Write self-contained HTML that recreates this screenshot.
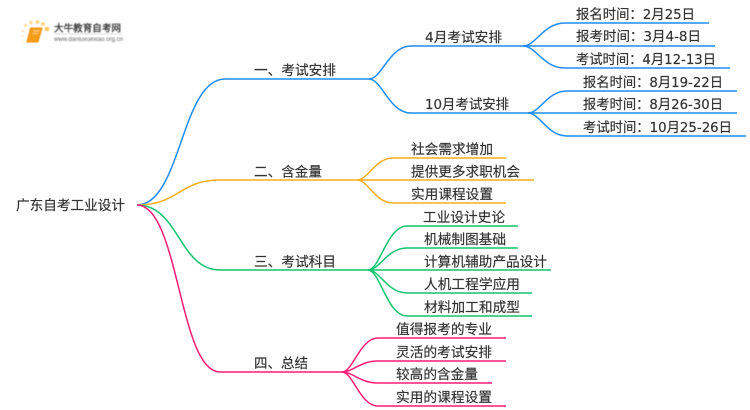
<!DOCTYPE html>
<html><head><meta charset="utf-8"><style>
html,body{margin:0;padding:0;background:#fff;width:750px;height:410px;overflow:hidden}
svg{display:block}
text{font-family:"DejaVu Sans","Noto Sans CJK SC",sans-serif;font-size:13.6px;fill:#333;stroke:#333;stroke-width:.18}
path{fill:none;stroke-width:1.5}
</style></head><body>
<svg width="750" height="410" viewBox="0 0 750 410" xmlns="http://www.w3.org/2000/svg">
<defs><filter id="b" x="-10%" y="-10%" width="120%" height="120%"><feGaussianBlur stdDeviation="0.5"/></filter></defs>
<!-- logo -->
<g filter="url(#b)">
<circle cx="47" cy="29" r="2.300" fill="#fbc75a"/><circle cx="43" cy="24" r="1.900" fill="#fbd27a"/><circle cx="37.500" cy="22" r="1.900" fill="#fbd27a"/><circle cx="31" cy="22.500" r="1.800" fill="#fcd98c"/><circle cx="25.500" cy="25.500" r="1.600" fill="#fcdf9f"/><circle cx="22.500" cy="31" r="1.300" fill="#fde6b5"/><circle cx="22.500" cy="36.500" r="1.200" fill="#feeccb"/><circle cx="23.500" cy="42" r="1" fill="#feeccb"/>
<path d="M30.500 28H42L38 42H27Z" style="fill:#f59c16;stroke:#ef8e10;stroke-width:1"/>
<path d="M33 31H39.500M32.500 33.500H38.500" style="stroke:#ffd27a;stroke-width:1"/>
<rect x="54" y="33.500" width="68" height="0.700" fill="#ccc"/>
<text x="54" y="31.500" style="font-size:9.600px;fill:#333;stroke-width:.25" textLength="67" lengthAdjust="spacingAndGlyphs">大牛教育自考网</text>
<text x="54" y="41" style="font-family:'Liberation Sans',sans-serif;font-size:6px;fill:#666;stroke:none" textLength="69" lengthAdjust="spacingAndGlyphs">www.daniuxuexiao.org.cn</text>
</g>

<g stroke="#1e8cf8">
<path d="M137 205C181 205 181 79 225 79H369"/>
<path d="M369 79C382 79 389 46 411 46H523"/>
<path d="M369 79C382 79 389 113 411 113H528"/>
<path d="M523 46C536 46 543 23 565 23H709"/>
<path d="M523 46H715"/>
<path d="M523 46C536 46 543 68 565 68H730"/>
<path d="M528 113C540 113 547 91 567 91H737"/>
<path d="M528 113H737"/>
<path d="M528 113C540 113 547 136 567 136H746"/>
</g>
<g stroke="#f9ad1c">
<path d="M137 205C179 205 179 180 220 180H357"/>
<path d="M357 180C368 180 375 158 393 158H506"/>
<path d="M357 180H534"/>
<path d="M357 180C368 180 375 203 393 203H506"/>
</g>
<g stroke="#12c46f">
<path d="M137 205C179 205 179 270 220 270H368"/>
<path d="M368 270C380 270 387 226 407 226H518"/>
<path d="M368 270C380 270 387 248 407 248H518"/>
<path d="M368 270H551"/>
<path d="M368 270C380 270 387 293 407 293H532"/>
<path d="M368 270C380 270 387 316 407 316H532"/>
</g>
<g stroke="#ff1a75">
<path d="M137 205C179 205 179 372 220 372H342"/>
<path d="M342 372C353 372 360 338 378 338H506"/>
<path d="M342 372C353 372 360 361 378 361H506"/>
<path d="M342 372C353 372 360 383 378 383H492"/>
<path d="M342 372C353 372 360 406 378 406H506"/>
</g>

<g>
<text x="16" y="210" textLength="109" lengthAdjust="spacingAndGlyphs">广东自考工业设计</text>
<text x="254" y="75" textLength="82" lengthAdjust="spacingAndGlyphs">一、考试安排</text>
<text x="254" y="176.500" textLength="68" lengthAdjust="spacingAndGlyphs">二、含金量</text>
<text x="254" y="266.500" textLength="82" lengthAdjust="spacingAndGlyphs">三、考试科目</text>
<text x="254" y="368" textLength="54" lengthAdjust="spacingAndGlyphs">四、总结</text>

<text x="425" y="42" textLength="77" lengthAdjust="spacingAndGlyphs">4月考试安排</text>
<text x="425" y="109" textLength="84" lengthAdjust="spacingAndGlyphs">10月考试安排</text>
<text x="576" y="19" textLength="119" lengthAdjust="spacingAndGlyphs">报名时间：2月25日</text>
<text x="576" y="41" textLength="125" lengthAdjust="spacingAndGlyphs">报考时间：3月4-8日</text>
<text x="576" y="64" textLength="140" lengthAdjust="spacingAndGlyphs">考试时间：4月12-13日</text>
<text x="583" y="87" textLength="140" lengthAdjust="spacingAndGlyphs">报名时间：8月19-22日</text>
<text x="583" y="109" textLength="140" lengthAdjust="spacingAndGlyphs">报考时间：8月26-30日</text>
<text x="583" y="132" textLength="149" lengthAdjust="spacingAndGlyphs">考试时间：10月25-26日</text>

<text x="411" y="154" textLength="82" lengthAdjust="spacingAndGlyphs">社会需求增加</text>
<text x="411" y="176.500" textLength="109" lengthAdjust="spacingAndGlyphs">提供更多求职机会</text>
<text x="411" y="199" textLength="82" lengthAdjust="spacingAndGlyphs">实用课程设置</text>

<text x="423" y="222" textLength="82" lengthAdjust="spacingAndGlyphs">工业设计史论</text>
<text x="424" y="244" textLength="82" lengthAdjust="spacingAndGlyphs">机械制图基础</text>
<text x="424" y="266.500" textLength="123" lengthAdjust="spacingAndGlyphs">计算机辅助产品设计</text>
<text x="424" y="289" textLength="96" lengthAdjust="spacingAndGlyphs">人机工程学应用</text>
<text x="424" y="312" textLength="96" lengthAdjust="spacingAndGlyphs">材料加工和成型</text>

<text x="396" y="334" textLength="96" lengthAdjust="spacingAndGlyphs">值得报考的专业</text>
<text x="396" y="357" textLength="96" lengthAdjust="spacingAndGlyphs">灵活的考试安排</text>
<text x="396" y="379" textLength="82" lengthAdjust="spacingAndGlyphs">较高的含金量</text>
<text x="396" y="402" textLength="96" lengthAdjust="spacingAndGlyphs">实用的课程设置</text>
</g>
</svg>
</body></html>
